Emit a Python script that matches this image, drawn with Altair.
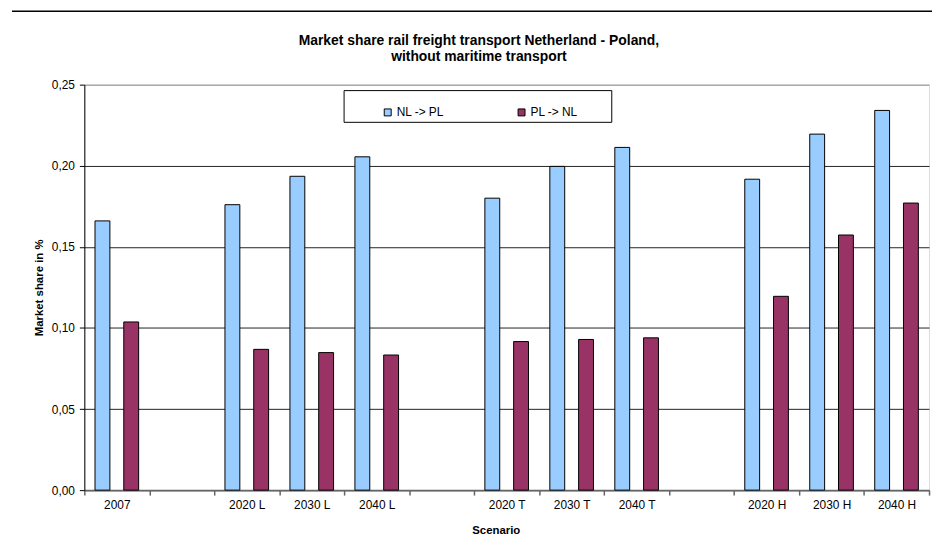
import altair as alt
import pandas as pd

scenarios = ["2007", " ", "2020 L", "2030 L", "2040 L", "  ", "2020 T", "2030 T", "2040 T", "   ", "2020 H", "2030 H", "2040 H"]
data_scen = ["2007", "2020 L", "2030 L", "2040 L", "2020 T", "2030 T", "2040 T", "2020 H", "2030 H", "2040 H"]
nl_pl = [0.166, 0.176, 0.1935, 0.2055, 0.180, 0.1996, 0.2113, 0.1917, 0.2195, 0.2341]
pl_nl = [0.1037, 0.0868, 0.0848, 0.0833, 0.0916, 0.0929, 0.0939, 0.1195, 0.1573, 0.177]
series = ["NL -> PL", "PL -> NL"]
colors = ["#99CCFF", "#993366"]
y_ticks = [0, 0.05, 0.10, 0.15, 0.20, 0.25]
title_text = "Market share rail freight transport Netherland - Poland,\nwithout maritime transport"

rows = []
for s, a, b in zip(data_scen, nl_pl, pl_nl):
    rows.append({"Scenario": s, "Series": series[0], "Share": a})
    rows.append({"Scenario": s, "Series": series[1], "Share": b})
df = pd.DataFrame(rows)

FONT = "Liberation Sans, Arial, sans-serif"

bars = alt.Chart(df).mark_bar(stroke="black", strokeWidth=1).encode(
    x=alt.X("Scenario:N", sort=scenarios,
            scale=alt.Scale(domain=scenarios, paddingInner=0, paddingOuter=0),
            axis=alt.Axis(title="Scenario", labelAngle=0, tickBand="extent",
                          domainColor="#666666", domainWidth=2, tickColor="#666666",
                          tickSize=5, tickWidth=1.5, labelPadding=5, labelFontSize=12,
                          labelColor="black", titleFontSize=11.5, titleFontWeight="bold",
                          titlePadding=14, titleColor="black", titleX=415, grid=False)),
    xOffset=alt.XOffset("Series:N", sort=series,
                        scale=alt.Scale(paddingInner=0.483, paddingOuter=0.371)),
    y=alt.Y("Share:Q",
            scale=alt.Scale(domain=[0, 0.25], nice=False),
            axis=alt.Axis(title="Market share in %", values=y_ticks,
                          labelExpr="replace(format(datum.value, '.2f'), '.', ',')",
                          domainColor="black", tickColor="black", tickSize=5,
                          labelPadding=5, labelFontSize=12, labelColor="black",
                          titleFontSize=11.5, titleFontWeight="bold", titlePadding=7,
                          titleColor="black",
                          gridColor={"condition": {"test": "datum.value >= 0.25", "value": "#888888"}, "value": "#222222"},
                          gridWidth=1)),
    color=alt.Color("Series:N", sort=series,
                    scale=alt.Scale(domain=series, range=colors),
                    legend=alt.Legend(title=None, orient="none", legendX=300, legendY=22,
                                      direction="horizontal", symbolType="square",
                                      symbolSize=49, symbolStrokeColor="black",
                                      symbolStrokeWidth=1, labelFontSize=12,
                                      labelColor="black", columnPadding=72,
                                      labelOffset=3)),
)

one = pd.DataFrame({"a": [0]})
legend_box = alt.Chart(one).mark_rect(fill="white", stroke="black", strokeWidth=1).encode(
    x=alt.value(262), x2=alt.value(532), y=alt.value(6), y2=alt.value(38)
)
top_line = alt.Chart(one).mark_rule(color="black", strokeWidth=1.5).encode(
    x=alt.value(-73), x2=alt.value(855), y=alt.value(-74)
)
title = alt.Chart(one).mark_text(
    text=title_text, lineBreak="\n", fontSize=14, fontWeight="bold", font=FONT,
    color="black", align="center", baseline="alphabetic", lineHeight=16
).encode(x=alt.value(398), y=alt.value(-40))

chart = alt.layer(bars, legend_box, top_line, title).properties(
    width=852, height=409,
    autosize=alt.AutoSizeParams(type="none"),
    padding={"left": 77, "top": 75, "right": 3, "bottom": 50},
).configure_view(stroke="#888888", strokeWidth=1).configure(
    font=FONT, background="white"
)

chart.save("out.html", embed_options={"renderer": "svg", "actions": False})
